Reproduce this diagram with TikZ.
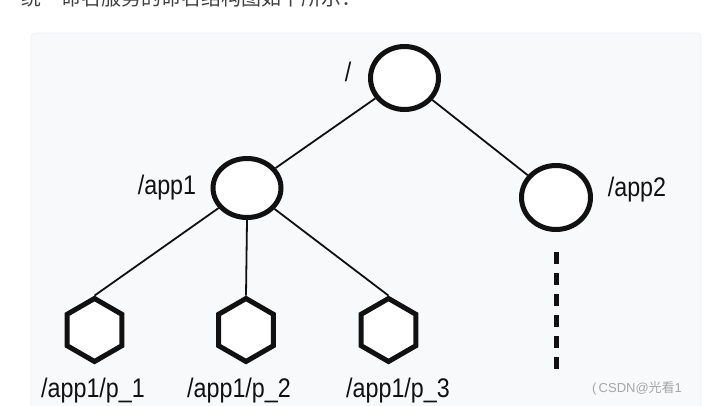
\documentclass[tikz,border=0pt]{standalone}
\usepackage{fontspec}
\setmainfont{Liberation Sans}
\newfontfamily\cjk{Noto Sans CJK SC}
\usetikzlibrary{shapes.geometric}
\definecolor{panel}{HTML}{F8F9FB}
\definecolor{panelborder}{HTML}{EEF0F3}
\definecolor{ink}{HTML}{111111}
\newcommand{\tallt}[1]{\scalebox{0.97}[1.12]{#1}}
\begin{document}
\begin{tikzpicture}[x=1pt,y=-1pt,
  znode/.style={draw=ink, ellipse, line width=5pt, fill=white, inner sep=0pt},
  hexnode/.style={draw=ink, regular polygon, regular polygon sides=6, shape border rotate=90,
    line width=5pt, fill=white, inner sep=0pt, minimum size=63pt},
  lbl/.style={font=\fontsize{24}{26}\selectfont, text=ink, inner sep=0pt},
  conn/.style={draw=ink, line width=1.8pt}]
\useasboundingbox (0,0) rectangle (704,406);
\clip (0,0) rectangle (704,406);
\fill[white] (0,0) rectangle (704,406);
% panel
\draw[panelborder, fill=panel, rounded corners=4pt, line width=0.6pt] (31,33) rectangle (701,420);
% cut-off heading
\node[anchor=base west, inner sep=0pt, text=black!75, font=\cjk\fontsize{20}{22}\selectfont] (head) at (21,6) {统一命名服务的命名结构图如下所示：};
% nodes
\node[znode, minimum width=68pt, minimum height=63pt] (root) at (404.5,78) {};
\node[znode, minimum width=68pt, minimum height=59pt] (app1) at (247,188) {};
\node[znode, minimum width=69pt, minimum height=64pt] (app2) at (556,197.5) {};
\node[hexnode] (h1) at (94.5,330) {};
\node[hexnode] (h2) at (246,330) {};
\node[hexnode] (h3) at (388.5,330) {};
% labels
\node[lbl] (lroot) at (348,72) {\tallt{/}};
\node[lbl] (lapp1) at (167,188) {\tallt{/app1}};
\node[lbl] (lapp2) at (637,190) {\tallt{/app2}};
\node[lbl, anchor=base] (lp1) at (93,397) {\tallt{/app1/p\_1}};
\node[lbl, anchor=base] (lp2) at (239,397) {\tallt{/app1/p\_2}};
\node[lbl, anchor=base] (lp3) at (398,397) {\tallt{/app1/p\_3}};
% connectors
\draw[conn] (root) -- (app1);
\draw[conn] (root) -- (app2);
\draw[conn] (app1) -- (h1.north);
\draw[conn] (app1.south) -- (h2.north);
\draw[conn] (app1) -- (h3.north);
\coordinate (dotend) at (556,369);
\coordinate (dotstart) at (556,252);
\draw[ink, line width=5pt, dash pattern=on 12pt off 9pt] (dotstart) -- (dotend);
% watermark
\node[anchor=west, inner sep=0pt, text=black!35, font=\fontsize{13}{14}\selectfont] (wm) at (592,388) {(\,CSDN@{\cjk 光看}1};
\end{tikzpicture}
\end{document}
